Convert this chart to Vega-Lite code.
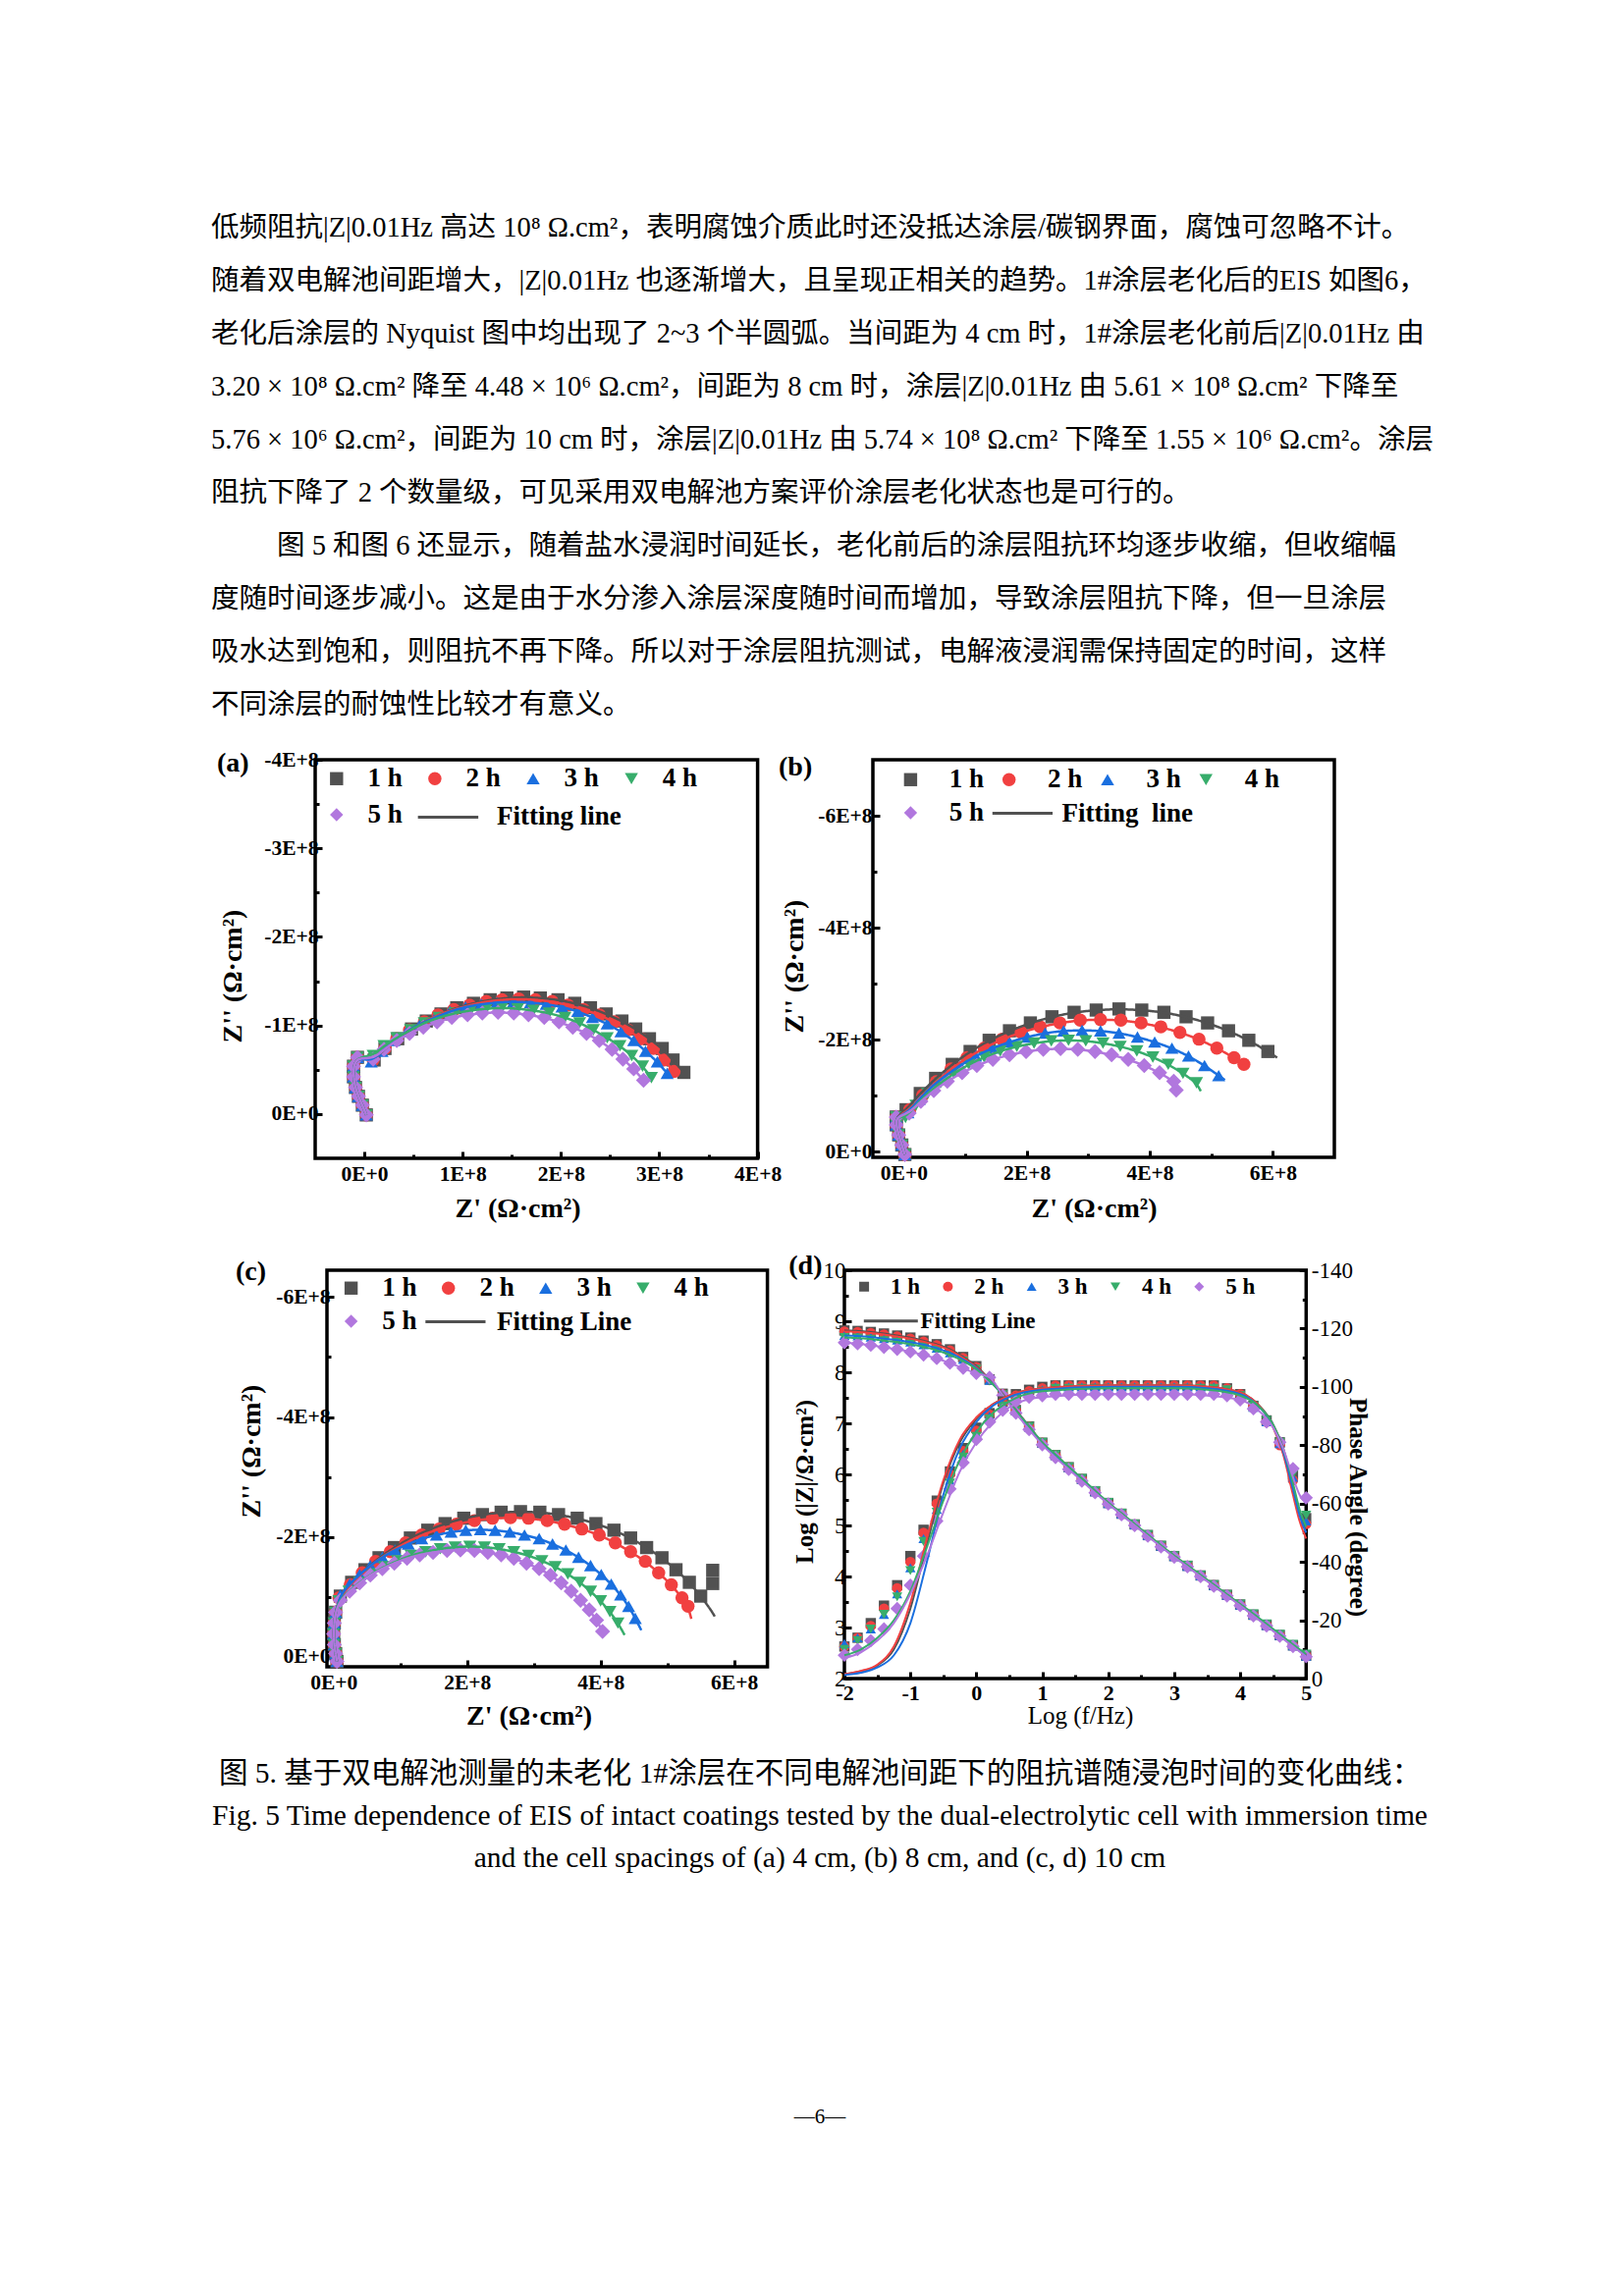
{
"$schema":"https://vega.github.io/schema/vega-lite/v6.json",
"background":"white",
"padding":{"left":215,"top":190,"right":10,"bottom":10},
"autosize":{"type":"pad"},
"config":{
"view":{"stroke":null},
"font":"Liberation Serif",
"axis":{"grid":false,"domain":false,"ticks":true,"tickColor":"black","tickWidth":3,"tickSize":-7,"labelFont":"Liberation Serif","labelFontWeight":"bold","labelFontSize":21.5,"labelColor":"black","labelFlush":false,"labelOverlap":false,"titleFont":"Liberation Serif","titleFontWeight":"bold","titleFontSize":28,"titleColor":"black"},
"legend":{"labelFont":"Liberation Serif","labelFontWeight":"bold","labelColor":"black","labelLimit":400,"symbolStrokeWidth":0,"symbolOpacity":1},
"title":{"font":"Liberation Serif","fontWeight":"bold","fontSize":28,"color":"black","anchor":"start","frame":"group","offset":0,"baseline":"middle","align":"left"}
},
"datasets":{
"tx":[
{"i":0,"x":0,"t":"低频阻抗|Z|0.01Hz 高达 10⁸ Ω.cm²，表明腐蚀介质此时还没抵达涂层/碳钢界面，腐蚀可忽略不计。"},
{"i":1,"x":0,"t":"随着双电解池间距增大，|Z|0.01Hz 也逐渐增大，且呈现正相关的趋势。1#涂层老化后的EIS 如图6，"},
{"i":2,"x":0,"t":"老化后涂层的 Nyquist 图中均出现了 2~3 个半圆弧。当间距为 4 cm 时，1#涂层老化前后|Z|0.01Hz 由"},
{"i":3,"x":0,"t":"3.20 × 10⁸ Ω.cm² 降至 4.48 × 10⁶ Ω.cm²，间距为 8 cm 时，涂层|Z|0.01Hz 由 5.61 × 10⁸ Ω.cm² 下降至"},
{"i":4,"x":0,"t":"5.76 × 10⁶ Ω.cm²，间距为 10 cm 时，涂层|Z|0.01Hz 由 5.74 × 10⁸ Ω.cm² 下降至 1.55 × 10⁶ Ω.cm²。涂层"},
{"i":5,"x":0,"t":"阻抗下降了 2 个数量级，可见采用双电解池方案评价涂层老化状态也是可行的。"},
{"i":6,"x":2.27,"t":"图 5 和图 6 还显示，随着盐水浸润时间延长，老化前后的涂层阻抗环均逐步收缩，但收缩幅"},
{"i":7,"x":0,"t":"度随时间逐步减小。这是由于水分渗入涂层深度随时间而增加，导致涂层阻抗下降，但一旦涂层"},
{"i":8,"x":0,"t":"吸水达到饱和，则阻抗不再下降。所以对于涂层阻抗测试，电解液浸润需保持固定的时间，这样"},
{"i":9,"x":0,"t":"不同涂层的耐蚀性比较才有意义。"}
],
"cap":[
{"i":0,"t":"图 5. 基于双电解池测量的未老化 1#涂层在不同电解池间距下的阻抗谱随浸泡时间的变化曲线："},
{"i":1,"t":"Fig. 5 Time dependence of EIS of intact coatings tested by the dual-electrolytic cell with immersion time"},
{"i":2,"t":"and the cell spacings of (a) 4 cm, (b) 8 cm, and (c, d) 10 cm"},
{"i":8.1,"t":"—6—"}
],
"na":[
{"s":1,"x":0.02,"y":0.01},{"s":1,"x":-0.02,"y":-0.1},{"s":1,"x":-0.06,"y":-0.2},{"s":1,"x":-0.09,"y":-0.3},{"s":1,"x":-0.11,"y":-0.42},{"s":1,"x":-0.11,"y":-0.54},{"s":1,"x":-0.07,"y":-0.64},
{"s":1,"x":0.1,"y":-0.61},{"s":1,"x":0.21,"y":-0.74},{"s":1,"x":0.34,"y":-0.85},{"s":1,"x":0.48,"y":-0.96},{"s":1,"x":0.63,"y":-1.05},{"s":1,"x":0.78,"y":-1.13},{"s":1,"x":0.94,"y":-1.2},{"s":1,"x":1.11,"y":-1.25},{"s":1,"x":1.28,"y":-1.29},{"s":1,"x":1.45,"y":-1.31},{"s":1,"x":1.62,"y":-1.32},{"s":1,"x":1.79,"y":-1.31},{"s":1,"x":1.97,"y":-1.29},{"s":1,"x":2.14,"y":-1.25},{"s":1,"x":2.3,"y":-1.2},{"s":1,"x":2.46,"y":-1.13},{"s":1,"x":2.62,"y":-1.05},{"s":1,"x":2.76,"y":-0.96},{"s":1,"x":2.9,"y":-0.85},{"s":1,"x":3.03,"y":-0.74},{"s":1,"x":3.14,"y":-0.61},{"s":1,"x":3.25,"y":-0.47},
{"s":2,"x":0.02,"y":0.01},{"s":2,"x":-0.02,"y":-0.1},{"s":2,"x":-0.06,"y":-0.2},{"s":2,"x":-0.09,"y":-0.3},{"s":2,"x":-0.11,"y":-0.42},{"s":2,"x":-0.11,"y":-0.54},{"s":2,"x":-0.07,"y":-0.64},
{"s":2,"x":0.09,"y":-0.61},{"s":2,"x":0.21,"y":-0.74},{"s":2,"x":0.33,"y":-0.85},{"s":2,"x":0.46,"y":-0.95},{"s":2,"x":0.61,"y":-1.04},{"s":2,"x":0.75,"y":-1.12},{"s":2,"x":0.91,"y":-1.18},{"s":2,"x":1.07,"y":-1.23},{"s":2,"x":1.24,"y":-1.27},{"s":2,"x":1.4,"y":-1.29},{"s":2,"x":1.57,"y":-1.3},{"s":2,"x":1.74,"y":-1.29},{"s":2,"x":1.91,"y":-1.27},{"s":2,"x":2.07,"y":-1.23},{"s":2,"x":2.23,"y":-1.18},{"s":2,"x":2.39,"y":-1.12},{"s":2,"x":2.54,"y":-1.04},{"s":2,"x":2.68,"y":-0.95},{"s":2,"x":2.81,"y":-0.85},{"s":2,"x":2.94,"y":-0.74},{"s":2,"x":3.05,"y":-0.61},{"s":2,"x":3.15,"y":-0.48},
{"s":3,"x":0.02,"y":0.01},{"s":3,"x":-0.02,"y":-0.1},{"s":3,"x":-0.06,"y":-0.2},{"s":3,"x":-0.09,"y":-0.3},{"s":3,"x":-0.11,"y":-0.42},{"s":3,"x":-0.11,"y":-0.54},{"s":3,"x":-0.07,"y":-0.64},
{"s":3,"x":0.07,"y":-0.59},{"s":3,"x":0.18,"y":-0.71},{"s":3,"x":0.3,"y":-0.83},{"s":3,"x":0.43,"y":-0.93},{"s":3,"x":0.57,"y":-1.02},{"s":3,"x":0.72,"y":-1.09},{"s":3,"x":0.87,"y":-1.16},{"s":3,"x":1.03,"y":-1.21},{"s":3,"x":1.19,"y":-1.24},{"s":3,"x":1.35,"y":-1.26},{"s":3,"x":1.52,"y":-1.27},{"s":3,"x":1.69,"y":-1.26},{"s":3,"x":1.85,"y":-1.24},{"s":3,"x":2.01,"y":-1.21},{"s":3,"x":2.17,"y":-1.16},{"s":3,"x":2.32,"y":-1.09},{"s":3,"x":2.47,"y":-1.02},{"s":3,"x":2.61,"y":-0.93},{"s":3,"x":2.74,"y":-0.83},{"s":3,"x":2.86,"y":-0.71},{"s":3,"x":2.98,"y":-0.59},{"s":3,"x":3.08,"y":-0.46},
{"s":4,"x":0.02,"y":0.01},{"s":4,"x":-0.02,"y":-0.1},{"s":4,"x":-0.06,"y":-0.2},{"s":4,"x":-0.09,"y":-0.3},{"s":4,"x":-0.11,"y":-0.42},{"s":4,"x":-0.11,"y":-0.54},{"s":4,"x":-0.07,"y":-0.64},
{"s":4,"x":0.09,"y":-0.66},{"s":4,"x":0.2,"y":-0.77},{"s":4,"x":0.33,"y":-0.86},{"s":4,"x":0.47,"y":-0.95},{"s":4,"x":0.61,"y":-1.03},{"s":4,"x":0.76,"y":-1.09},{"s":4,"x":0.92,"y":-1.14},{"s":4,"x":1.08,"y":-1.17},{"s":4,"x":1.24,"y":-1.19},{"s":4,"x":1.4,"y":-1.2},{"s":4,"x":1.56,"y":-1.19},{"s":4,"x":1.72,"y":-1.17},{"s":4,"x":1.88,"y":-1.14},{"s":4,"x":2.04,"y":-1.09},{"s":4,"x":2.19,"y":-1.03},{"s":4,"x":2.33,"y":-0.95},{"s":4,"x":2.47,"y":-0.86},{"s":4,"x":2.6,"y":-0.77},{"s":4,"x":2.72,"y":-0.66},{"s":4,"x":2.83,"y":-0.54},{"s":4,"x":2.92,"y":-0.41},
{"s":5,"x":0.02,"y":0.01},{"s":5,"x":-0.02,"y":-0.1},{"s":5,"x":-0.06,"y":-0.2},{"s":5,"x":-0.09,"y":-0.3},{"s":5,"x":-0.11,"y":-0.42},{"s":5,"x":-0.11,"y":-0.54},{"s":5,"x":-0.07,"y":-0.64},
{"s":5,"x":0.09,"y":-0.62},{"s":5,"x":0.2,"y":-0.73},{"s":5,"x":0.33,"y":-0.83},{"s":5,"x":0.46,"y":-0.91},{"s":5,"x":0.6,"y":-0.98},{"s":5,"x":0.74,"y":-1.04},{"s":5,"x":0.89,"y":-1.09},{"s":5,"x":1.05,"y":-1.12},{"s":5,"x":1.2,"y":-1.14},{"s":5,"x":1.36,"y":-1.15},{"s":5,"x":1.52,"y":-1.14},{"s":5,"x":1.67,"y":-1.12},{"s":5,"x":1.83,"y":-1.09},{"s":5,"x":1.98,"y":-1.04},{"s":5,"x":2.12,"y":-0.98},{"s":5,"x":2.26,"y":-0.91},{"s":5,"x":2.39,"y":-0.83},{"s":5,"x":2.52,"y":-0.73},{"s":5,"x":2.63,"y":-0.62},{"s":5,"x":2.74,"y":-0.51},{"s":5,"x":2.84,"y":-0.38}
],
"nb":[
{"s":1,"x":0.02,"y":0.05},{"s":1,"x":-0.03,"y":-0.12},{"s":1,"x":-0.08,"y":-0.3},{"s":1,"x":-0.12,"y":-0.48},{"s":1,"x":-0.12,"y":-0.62},
{"s":1,"x":0.04,"y":-0.75},{"s":1,"x":0.27,"y":-1.04},{"s":1,"x":0.52,"y":-1.31},{"s":1,"x":0.79,"y":-1.56},{"s":1,"x":1.08,"y":-1.79},{"s":1,"x":1.39,"y":-1.99},{"s":1,"x":1.72,"y":-2.16},{"s":1,"x":2.06,"y":-2.3},{"s":1,"x":2.41,"y":-2.41},{"s":1,"x":2.77,"y":-2.49},{"s":1,"x":3.13,"y":-2.53},{"s":1,"x":3.5,"y":-2.55},{"s":1,"x":3.87,"y":-2.53},{"s":1,"x":4.23,"y":-2.49},{"s":1,"x":4.59,"y":-2.41},{"s":1,"x":4.94,"y":-2.3},{"s":1,"x":5.28,"y":-2.16},{"s":1,"x":5.61,"y":-1.99},{"s":1,"x":5.92,"y":-1.79},{"s":1,"x":6.07,"y":-1.68,"k":2},
{"s":2,"x":0.02,"y":0.05},{"s":2,"x":-0.03,"y":-0.12},{"s":2,"x":-0.08,"y":-0.3},{"s":2,"x":-0.12,"y":-0.48},{"s":2,"x":-0.12,"y":-0.62},
{"s":2,"x":0.1,"y":-0.75},{"s":2,"x":0.31,"y":-1.01},{"s":2,"x":0.53,"y":-1.25},{"s":2,"x":0.77,"y":-1.48},{"s":2,"x":1.03,"y":-1.68},{"s":2,"x":1.31,"y":-1.85},{"s":2,"x":1.6,"y":-2.01},{"s":2,"x":1.91,"y":-2.13},{"s":2,"x":2.22,"y":-2.23},{"s":2,"x":2.54,"y":-2.3},{"s":2,"x":2.87,"y":-2.35},{"s":2,"x":3.2,"y":-2.36},{"s":2,"x":3.53,"y":-2.35},{"s":2,"x":3.86,"y":-2.3},{"s":2,"x":4.18,"y":-2.23},{"s":2,"x":4.49,"y":-2.13},{"s":2,"x":4.8,"y":-2.01},{"s":2,"x":5.09,"y":-1.85},{"s":2,"x":5.37,"y":-1.68},{"s":2,"x":5.53,"y":-1.56},
{"s":3,"x":0.02,"y":0.05},{"s":3,"x":-0.03,"y":-0.12},{"s":3,"x":-0.08,"y":-0.3},{"s":3,"x":-0.12,"y":-0.48},{"s":3,"x":-0.12,"y":-0.62},
{"s":3,"x":0.07,"y":-0.7},{"s":3,"x":0.25,"y":-0.93},{"s":3,"x":0.45,"y":-1.16},{"s":3,"x":0.68,"y":-1.36},{"s":3,"x":0.92,"y":-1.54},{"s":3,"x":1.17,"y":-1.71},{"s":3,"x":1.44,"y":-1.85},{"s":3,"x":1.72,"y":-1.96},{"s":3,"x":2.01,"y":-2.05},{"s":3,"x":2.3,"y":-2.12},{"s":3,"x":2.6,"y":-2.16},{"s":3,"x":2.9,"y":-2.17},{"s":3,"x":3.2,"y":-2.16},{"s":3,"x":3.5,"y":-2.12},{"s":3,"x":3.8,"y":-2.05},{"s":3,"x":4.08,"y":-1.96},{"s":3,"x":4.36,"y":-1.85},{"s":3,"x":4.63,"y":-1.71},{"s":3,"x":4.89,"y":-1.54},{"s":3,"x":5.12,"y":-1.36},{"s":3,"x":5.22,"y":-1.28,"k":2},
{"s":4,"x":0.02,"y":0.05},{"s":4,"x":-0.03,"y":-0.12},{"s":4,"x":-0.08,"y":-0.3},{"s":4,"x":-0.12,"y":-0.48},{"s":4,"x":-0.12,"y":-0.62},
{"s":4,"x":0.03,"y":-0.61},{"s":4,"x":0.2,"y":-0.83},{"s":4,"x":0.39,"y":-1.04},{"s":4,"x":0.6,"y":-1.23},{"s":4,"x":0.82,"y":-1.4},{"s":4,"x":1.06,"y":-1.56},{"s":4,"x":1.31,"y":-1.69},{"s":4,"x":1.57,"y":-1.8},{"s":4,"x":1.84,"y":-1.88},{"s":4,"x":2.12,"y":-1.94},{"s":4,"x":2.4,"y":-1.98},{"s":4,"x":2.68,"y":-1.99},{"s":4,"x":2.96,"y":-1.98},{"s":4,"x":3.24,"y":-1.94},{"s":4,"x":3.52,"y":-1.88},{"s":4,"x":3.79,"y":-1.8},{"s":4,"x":4.05,"y":-1.69},{"s":4,"x":4.3,"y":-1.56},{"s":4,"x":4.54,"y":-1.4},{"s":4,"x":4.76,"y":-1.23},{"s":4,"x":4.83,"y":-1.08,"k":2},
{"s":5,"x":0.02,"y":0.05},{"s":5,"x":-0.03,"y":-0.12},{"s":5,"x":-0.08,"y":-0.3},{"s":5,"x":-0.12,"y":-0.48},{"s":5,"x":-0.12,"y":-0.62},
{"s":5,"x":0.09,"y":-0.69},{"s":5,"x":0.28,"y":-0.9},{"s":5,"x":0.49,"y":-1.09},{"s":5,"x":0.71,"y":-1.26},{"s":5,"x":0.95,"y":-1.41},{"s":5,"x":1.19,"y":-1.54},{"s":5,"x":1.45,"y":-1.65},{"s":5,"x":1.72,"y":-1.73},{"s":5,"x":1.99,"y":-1.79},{"s":5,"x":2.27,"y":-1.83},{"s":5,"x":2.55,"y":-1.84},{"s":5,"x":2.83,"y":-1.83},{"s":5,"x":3.11,"y":-1.79},{"s":5,"x":3.38,"y":-1.73},{"s":5,"x":3.65,"y":-1.65},{"s":5,"x":3.91,"y":-1.54},{"s":5,"x":4.16,"y":-1.41},{"s":5,"x":4.39,"y":-1.26},{"s":5,"x":4.43,"y":-1.1}
],
"nc":[
{"s":1,"x":0.05,"y":0.08},{"s":1,"x":0.03,"y":-0.05},{"s":1,"x":0.01,"y":-0.2},{"s":1,"x":0,"y":-0.38},{"s":1,"x":0.01,"y":-0.56},{"s":1,"x":0.03,"y":-0.74},
{"s":1,"x":0.1,"y":-1.01},{"s":1,"x":0.27,"y":-1.24},{"s":1,"x":0.47,"y":-1.45},{"s":1,"x":0.68,"y":-1.65},{"s":1,"x":0.91,"y":-1.82},{"s":1,"x":1.15,"y":-1.98},{"s":1,"x":1.41,"y":-2.11},{"s":1,"x":1.67,"y":-2.22},{"s":1,"x":1.95,"y":-2.31},{"s":1,"x":2.23,"y":-2.37},{"s":1,"x":2.51,"y":-2.41},{"s":1,"x":2.8,"y":-2.42},{"s":1,"x":3.09,"y":-2.41},{"s":1,"x":3.37,"y":-2.37},{"s":1,"x":3.65,"y":-2.31},{"s":1,"x":3.93,"y":-2.22},{"s":1,"x":4.2,"y":-2.11},{"s":1,"x":4.45,"y":-1.98},{"s":1,"x":4.69,"y":-1.82},{"s":1,"x":4.92,"y":-1.65},{"s":1,"x":5.13,"y":-1.45},{"s":1,"x":5.33,"y":-1.24},{"s":1,"x":5.5,"y":-1.01},{"s":1,"x":5.68,"y":-1.44,"k":1},{"s":1,"x":5.68,"y":-1.22,"k":1},{"s":1,"x":5.66,"y":-0.77,"k":2},{"s":1,"x":5.71,"y":-0.67,"k":2},
{"s":2,"x":0.05,"y":0.08},{"s":2,"x":0.03,"y":-0.05},{"s":2,"x":0.01,"y":-0.2},{"s":2,"x":0,"y":-0.38},{"s":2,"x":0.01,"y":-0.56},{"s":2,"x":0.03,"y":-0.74},
{"s":2,"x":0.08,"y":-0.98},{"s":2,"x":0.25,"y":-1.2},{"s":2,"x":0.43,"y":-1.4},{"s":2,"x":0.63,"y":-1.59},{"s":2,"x":0.85,"y":-1.75},{"s":2,"x":1.08,"y":-1.9},{"s":2,"x":1.32,"y":-2.03},{"s":2,"x":1.58,"y":-2.13},{"s":2,"x":1.84,"y":-2.21},{"s":2,"x":2.11,"y":-2.27},{"s":2,"x":2.38,"y":-2.31},{"s":2,"x":2.65,"y":-2.32},{"s":2,"x":2.92,"y":-2.31},{"s":2,"x":3.2,"y":-2.27},{"s":2,"x":3.46,"y":-2.21},{"s":2,"x":3.72,"y":-2.13},{"s":2,"x":3.98,"y":-2.03},{"s":2,"x":4.22,"y":-1.9},{"s":2,"x":4.45,"y":-1.75},{"s":2,"x":4.67,"y":-1.59},{"s":2,"x":4.87,"y":-1.4},{"s":2,"x":5.06,"y":-1.2},{"s":2,"x":5.22,"y":-0.98},{"s":2,"x":5.31,"y":-0.84},{"s":2,"x":5.36,"y":-0.63,"k":2},
{"s":3,"x":0.05,"y":0.08},{"s":3,"x":0.03,"y":-0.05},{"s":3,"x":0.01,"y":-0.2},{"s":3,"x":0,"y":-0.38},{"s":3,"x":0.01,"y":-0.56},{"s":3,"x":0.03,"y":-0.74},
{"s":3,"x":0.1,"y":-1.03},{"s":3,"x":0.24,"y":-1.21},{"s":3,"x":0.39,"y":-1.37},{"s":3,"x":0.55,"y":-1.52},{"s":3,"x":0.73,"y":-1.66},{"s":3,"x":0.92,"y":-1.78},{"s":3,"x":1.12,"y":-1.88},{"s":3,"x":1.32,"y":-1.97},{"s":3,"x":1.54,"y":-2.03},{"s":3,"x":1.76,"y":-2.08},{"s":3,"x":1.98,"y":-2.11},{"s":3,"x":2.2,"y":-2.12},{"s":3,"x":2.42,"y":-2.11},{"s":3,"x":2.64,"y":-2.08},{"s":3,"x":2.86,"y":-2.03},{"s":3,"x":3.08,"y":-1.97},{"s":3,"x":3.28,"y":-1.88},{"s":3,"x":3.48,"y":-1.78},{"s":3,"x":3.67,"y":-1.66},{"s":3,"x":3.85,"y":-1.52},{"s":3,"x":4.01,"y":-1.37},{"s":3,"x":4.16,"y":-1.21},{"s":3,"x":4.3,"y":-1.03},{"s":3,"x":4.42,"y":-0.84},{"s":3,"x":4.52,"y":-0.64},{"s":3,"x":4.61,"y":-0.44,"k":2},
{"s":4,"x":0.05,"y":0.08},{"s":4,"x":0.03,"y":-0.05},{"s":4,"x":0.01,"y":-0.2},{"s":4,"x":0,"y":-0.38},{"s":4,"x":0.01,"y":-0.56},{"s":4,"x":0.03,"y":-0.74},
{"s":4,"x":0.08,"y":-0.93},{"s":4,"x":0.23,"y":-1.09},{"s":4,"x":0.39,"y":-1.24},{"s":4,"x":0.57,"y":-1.38},{"s":4,"x":0.76,"y":-1.5},{"s":4,"x":0.96,"y":-1.6},{"s":4,"x":1.16,"y":-1.69},{"s":4,"x":1.38,"y":-1.75},{"s":4,"x":1.6,"y":-1.8},{"s":4,"x":1.82,"y":-1.83},{"s":4,"x":2.04,"y":-1.84},{"s":4,"x":2.26,"y":-1.83},{"s":4,"x":2.48,"y":-1.8},{"s":4,"x":2.7,"y":-1.75},{"s":4,"x":2.92,"y":-1.69},{"s":4,"x":3.12,"y":-1.6},{"s":4,"x":3.32,"y":-1.5},{"s":4,"x":3.51,"y":-1.38},{"s":4,"x":3.69,"y":-1.24},{"s":4,"x":3.85,"y":-1.09},{"s":4,"x":4,"y":-0.93},{"s":4,"x":4.14,"y":-0.75},{"s":4,"x":4.26,"y":-0.56},{"s":4,"x":4.36,"y":-0.36,"k":2},
{"s":5,"x":0.05,"y":0.08},{"s":5,"x":0.03,"y":-0.05},{"s":5,"x":0.01,"y":-0.2},{"s":5,"x":0,"y":-0.38},{"s":5,"x":0.01,"y":-0.56},{"s":5,"x":0.03,"y":-0.74},
{"s":5,"x":0.1,"y":-0.94},{"s":5,"x":0.24,"y":-1.09},{"s":5,"x":0.39,"y":-1.23},{"s":5,"x":0.55,"y":-1.36},{"s":5,"x":0.73,"y":-1.47},{"s":5,"x":0.91,"y":-1.56},{"s":5,"x":1.1,"y":-1.64},{"s":5,"x":1.29,"y":-1.7},{"s":5,"x":1.49,"y":-1.74},{"s":5,"x":1.7,"y":-1.77},{"s":5,"x":1.9,"y":-1.78},{"s":5,"x":2.11,"y":-1.77},{"s":5,"x":2.31,"y":-1.74},{"s":5,"x":2.51,"y":-1.7},{"s":5,"x":2.7,"y":-1.64},{"s":5,"x":2.89,"y":-1.56},{"s":5,"x":3.08,"y":-1.47},{"s":5,"x":3.25,"y":-1.36},{"s":5,"x":3.41,"y":-1.23},{"s":5,"x":3.56,"y":-1.09},{"s":5,"x":3.7,"y":-0.94},{"s":5,"x":3.83,"y":-0.78},{"s":5,"x":3.94,"y":-0.61},{"s":5,"x":4.03,"y":-0.42}
],
"dd":[
{"s":1,"f":-2,"z":8.82,"p":-11},{"s":1,"f":-1.8,"z":8.81,"p":-14},{"s":1,"f":-1.6,"z":8.79,"p":-19},{"s":1,"f":-1.4,"z":8.76,"p":-25},{"s":1,"f":-1.2,"z":8.72,"p":-32},{"s":1,"f":-1,"z":8.68,"p":-42},{"s":1,"f":-0.8,"z":8.62,"p":-51},{"s":1,"f":-0.6,"z":8.55,"p":-61},{"s":1,"f":-0.4,"z":8.45,"p":-71},{"s":1,"f":-0.2,"z":8.3,"p":-79},{"s":1,"f":0,"z":8.12,"p":-86},{"s":1,"f":0.2,"z":7.86,"p":-91},{"s":1,"f":0.4,"z":7.58,"p":-95},{"s":1,"f":0.6,"z":7.26,"p":-97.5},{"s":1,"f":0.8,"z":6.94,"p":-99},{"s":1,"f":1,"z":6.62,"p":-100},{"s":1,"f":1.2,"z":6.38,"p":-100.5},{"s":1,"f":1.4,"z":6.14,"p":-100.5},{"s":1,"f":1.6,"z":5.91,"p":-100.5},{"s":1,"f":1.8,"z":5.67,"p":-100.5},{"s":1,"f":2,"z":5.44,"p":-100.5},{"s":1,"f":2.2,"z":5.23,"p":-100.5},{"s":1,"f":2.4,"z":5.02,"p":-100.5},{"s":1,"f":2.6,"z":4.81,"p":-100.5},{"s":1,"f":2.8,"z":4.6,"p":-100.5},{"s":1,"f":3,"z":4.4,"p":-100.5},{"s":1,"f":3.2,"z":4.21,"p":-100.5},{"s":1,"f":3.4,"z":4.02,"p":-100.5},{"s":1,"f":3.6,"z":3.83,"p":-100.5},{"s":1,"f":3.8,"z":3.64,"p":-99.5},{"s":1,"f":4,"z":3.45,"p":-97.5},{"s":1,"f":4.2,"z":3.25,"p":-93.5},{"s":1,"f":4.4,"z":3.05,"p":-88.5},{"s":1,"f":4.6,"z":2.85,"p":-81},{"s":1,"f":4.8,"z":2.65,"p":-70},{"s":1,"f":5,"z":2.45,"p":-55},
{"s":2,"f":-2,"z":8.8,"p":-11},{"s":2,"f":-1.8,"z":8.79,"p":-14},{"s":2,"f":-1.6,"z":8.77,"p":-18},{"s":2,"f":-1.4,"z":8.74,"p":-24},{"s":2,"f":-1.2,"z":8.7,"p":-31},{"s":2,"f":-1,"z":8.66,"p":-40},{"s":2,"f":-0.8,"z":8.6,"p":-50},{"s":2,"f":-0.6,"z":8.53,"p":-60},{"s":2,"f":-0.4,"z":8.43,"p":-70},{"s":2,"f":-0.2,"z":8.28,"p":-78},{"s":2,"f":0,"z":8.1,"p":-85},{"s":2,"f":0.2,"z":7.85,"p":-90.5},{"s":2,"f":0.4,"z":7.57,"p":-94.5},{"s":2,"f":0.6,"z":7.26,"p":-97},{"s":2,"f":0.8,"z":6.94,"p":-98.5},{"s":2,"f":1,"z":6.62,"p":-99.5},{"s":2,"f":1.2,"z":6.38,"p":-100.5},{"s":2,"f":1.4,"z":6.14,"p":-100.5},{"s":2,"f":1.6,"z":5.91,"p":-100.5},{"s":2,"f":1.8,"z":5.67,"p":-100.5},{"s":2,"f":2,"z":5.44,"p":-100.5},{"s":2,"f":2.2,"z":5.23,"p":-100.5},{"s":2,"f":2.4,"z":5.02,"p":-100.5},{"s":2,"f":2.6,"z":4.81,"p":-100.5},{"s":2,"f":2.8,"z":4.6,"p":-100.5},{"s":2,"f":3,"z":4.4,"p":-100.5},{"s":2,"f":3.2,"z":4.21,"p":-100.5},{"s":2,"f":3.4,"z":4.02,"p":-100.5},{"s":2,"f":3.6,"z":3.83,"p":-100.5},{"s":2,"f":3.8,"z":3.64,"p":-99.5},{"s":2,"f":4,"z":3.45,"p":-97.5},{"s":2,"f":4.2,"z":3.25,"p":-93.5},{"s":2,"f":4.4,"z":3.05,"p":-88},{"s":2,"f":4.6,"z":2.85,"p":-80},{"s":2,"f":4.8,"z":2.65,"p":-68},{"s":2,"f":5,"z":2.45,"p":-53},
{"s":3,"f":-2,"z":8.72,"p":-12},{"s":3,"f":-1.8,"z":8.71,"p":-14},{"s":3,"f":-1.6,"z":8.69,"p":-17},{"s":3,"f":-1.4,"z":8.66,"p":-22},{"s":3,"f":-1.2,"z":8.63,"p":-29},{"s":3,"f":-1,"z":8.59,"p":-38},{"s":3,"f":-0.8,"z":8.54,"p":-48},{"s":3,"f":-0.6,"z":8.47,"p":-58},{"s":3,"f":-0.4,"z":8.38,"p":-68},{"s":3,"f":-0.2,"z":8.25,"p":-77},{"s":3,"f":0,"z":8.08,"p":-84},{"s":3,"f":0.2,"z":7.84,"p":-90},{"s":3,"f":0.4,"z":7.56,"p":-94},{"s":3,"f":0.6,"z":7.25,"p":-96.5},{"s":3,"f":0.8,"z":6.93,"p":-98},{"s":3,"f":1,"z":6.61,"p":-99},{"s":3,"f":1.2,"z":6.37,"p":-100},{"s":3,"f":1.4,"z":6.13,"p":-100},{"s":3,"f":1.6,"z":5.9,"p":-100},{"s":3,"f":1.8,"z":5.66,"p":-100},{"s":3,"f":2,"z":5.43,"p":-100},{"s":3,"f":2.2,"z":5.22,"p":-100},{"s":3,"f":2.4,"z":5.01,"p":-100},{"s":3,"f":2.6,"z":4.8,"p":-100},{"s":3,"f":2.8,"z":4.59,"p":-100},{"s":3,"f":3,"z":4.39,"p":-100},{"s":3,"f":3.2,"z":4.2,"p":-100},{"s":3,"f":3.4,"z":4.01,"p":-100},{"s":3,"f":3.6,"z":3.82,"p":-100},{"s":3,"f":3.8,"z":3.63,"p":-99},{"s":3,"f":4,"z":3.44,"p":-97},{"s":3,"f":4.2,"z":3.24,"p":-93},{"s":3,"f":4.4,"z":3.04,"p":-88},{"s":3,"f":4.6,"z":2.84,"p":-80.5},{"s":3,"f":4.8,"z":2.64,"p":-69},{"s":3,"f":5,"z":2.44,"p":-54},
{"s":4,"f":-2,"z":8.68,"p":-10},{"s":4,"f":-1.8,"z":8.67,"p":-13},{"s":4,"f":-1.6,"z":8.65,"p":-17},{"s":4,"f":-1.4,"z":8.62,"p":-22},{"s":4,"f":-1.2,"z":8.59,"p":-28},{"s":4,"f":-1,"z":8.55,"p":-37},{"s":4,"f":-0.8,"z":8.5,"p":-47},{"s":4,"f":-0.6,"z":8.43,"p":-57},{"s":4,"f":-0.4,"z":8.34,"p":-67},{"s":4,"f":-0.2,"z":8.22,"p":-76},{"s":4,"f":0,"z":8.06,"p":-83},{"s":4,"f":0.2,"z":7.83,"p":-89},{"s":4,"f":0.4,"z":7.56,"p":-93.5},{"s":4,"f":0.6,"z":7.25,"p":-96},{"s":4,"f":0.8,"z":6.94,"p":-97.5},{"s":4,"f":1,"z":6.63,"p":-98.5},{"s":4,"f":1.2,"z":6.39,"p":-99.5},{"s":4,"f":1.4,"z":6.15,"p":-99.5},{"s":4,"f":1.6,"z":5.92,"p":-99.5},{"s":4,"f":1.8,"z":5.68,"p":-99.5},{"s":4,"f":2,"z":5.45,"p":-99.5},{"s":4,"f":2.2,"z":5.24,"p":-99.5},{"s":4,"f":2.4,"z":5.03,"p":-99.5},{"s":4,"f":2.6,"z":4.82,"p":-99.5},{"s":4,"f":2.8,"z":4.61,"p":-99.5},{"s":4,"f":3,"z":4.41,"p":-99.5},{"s":4,"f":3.2,"z":4.22,"p":-99.5},{"s":4,"f":3.4,"z":4.03,"p":-99.5},{"s":4,"f":3.6,"z":3.84,"p":-99.5},{"s":4,"f":3.8,"z":3.65,"p":-99},{"s":4,"f":4,"z":3.46,"p":-97},{"s":4,"f":4.2,"z":3.27,"p":-93.5},{"s":4,"f":4.4,"z":3.07,"p":-88.5},{"s":4,"f":4.6,"z":2.87,"p":-81},{"s":4,"f":4.8,"z":2.67,"p":-70},{"s":4,"f":5,"z":2.48,"p":-56},
{"s":5,"f":-2,"z":8.58,"p":-8},{"s":5,"f":-1.8,"z":8.56,"p":-10},{"s":5,"f":-1.6,"z":8.53,"p":-13},{"s":5,"f":-1.4,"z":8.49,"p":-17},{"s":5,"f":-1.2,"z":8.45,"p":-24},{"s":5,"f":-1,"z":8.4,"p":-32},{"s":5,"f":-0.8,"z":8.34,"p":-42},{"s":5,"f":-0.6,"z":8.27,"p":-54},{"s":5,"f":-0.4,"z":8.18,"p":-65},{"s":5,"f":-0.2,"z":8.08,"p":-74},{"s":5,"f":0,"z":7.98,"p":-82},{"s":5,"f":0.2,"z":7.9,"p":-88},{"s":5,"f":0.4,"z":7.55,"p":-92},{"s":5,"f":0.6,"z":7.2,"p":-95},{"s":5,"f":0.8,"z":6.88,"p":-96.5},{"s":5,"f":1,"z":6.58,"p":-97},{"s":5,"f":1.2,"z":6.33,"p":-97.5},{"s":5,"f":1.4,"z":6.1,"p":-97.5},{"s":5,"f":1.6,"z":5.87,"p":-97.5},{"s":5,"f":1.8,"z":5.64,"p":-97.5},{"s":5,"f":2,"z":5.42,"p":-97.5},{"s":5,"f":2.2,"z":5.21,"p":-97.5},{"s":5,"f":2.4,"z":5,"p":-97.5},{"s":5,"f":2.6,"z":4.79,"p":-97.5},{"s":5,"f":2.8,"z":4.58,"p":-97.5},{"s":5,"f":3,"z":4.38,"p":-97.5},{"s":5,"f":3.2,"z":4.19,"p":-97.5},{"s":5,"f":3.4,"z":4,"p":-97.5},{"s":5,"f":3.6,"z":3.81,"p":-97.5},{"s":5,"f":3.8,"z":3.62,"p":-97},{"s":5,"f":4,"z":3.43,"p":-95.5},{"s":5,"f":4.2,"z":3.23,"p":-92.5},{"s":5,"f":4.4,"z":3.03,"p":-88},{"s":5,"f":4.6,"z":2.83,"p":-81},{"s":5,"f":4.8,"z":2.63,"p":-72},{"s":5,"f":5,"z":2.43,"p":-62}
],
"df":[
{"s":1,"f":-2,"p":-1.5},{"s":1,"f":-1.75,"p":-2.5},{"s":1,"f":-1.5,"p":-4.5},{"s":1,"f":-1.25,"p":-10},{"s":1,"f":-1,"p":-24},{"s":1,"f":-0.75,"p":-46},{"s":1,"f":-0.5,"p":-67},{"s":1,"f":-0.25,"p":-81},{"s":1,"f":0,"p":-89},{"s":1,"f":0.25,"p":-94},{"s":1,"f":0.5,"p":-97},{"s":1,"f":1,"p":-99.5},{"s":1,"f":2,"p":-100.5},{"s":1,"f":3,"p":-100.5},{"s":1,"f":3.5,"p":-100},{"s":1,"f":4,"p":-98},{"s":1,"f":4.25,"p":-94.5},{"s":1,"f":4.5,"p":-87},{"s":1,"f":4.65,"p":-79},{"s":1,"f":4.8,"p":-66},{"s":1,"f":4.9,"p":-57},{"s":1,"f":5,"p":-50},
{"s":2,"f":-2,"p":-1.5},{"s":2,"f":-1.75,"p":-2.6},{"s":2,"f":-1.5,"p":-4.8},{"s":2,"f":-1.25,"p":-11},{"s":2,"f":-1,"p":-26},{"s":2,"f":-0.75,"p":-48},{"s":2,"f":-0.5,"p":-68},{"s":2,"f":-0.25,"p":-82},{"s":2,"f":0,"p":-89.5},{"s":2,"f":0.25,"p":-94},{"s":2,"f":0.5,"p":-97},{"s":2,"f":1,"p":-99.5},{"s":2,"f":2,"p":-100.5},{"s":2,"f":3,"p":-100.5},{"s":2,"f":3.5,"p":-100},{"s":2,"f":4,"p":-98},{"s":2,"f":4.25,"p":-94.5},{"s":2,"f":4.5,"p":-86},{"s":2,"f":4.65,"p":-77},{"s":2,"f":4.8,"p":-63},{"s":2,"f":4.9,"p":-54},{"s":2,"f":5,"p":-48},
{"s":3,"f":-2,"p":-1.2},{"s":3,"f":-1.75,"p":-2},{"s":3,"f":-1.5,"p":-3.8},{"s":3,"f":-1.25,"p":-8},{"s":3,"f":-1,"p":-19},{"s":3,"f":-0.75,"p":-40},{"s":3,"f":-0.5,"p":-63},{"s":3,"f":-0.25,"p":-79},{"s":3,"f":0,"p":-88},{"s":3,"f":0.25,"p":-93.5},{"s":3,"f":0.5,"p":-96.5},{"s":3,"f":1,"p":-99},{"s":3,"f":2,"p":-100},{"s":3,"f":3,"p":-100},{"s":3,"f":3.5,"p":-99.5},{"s":3,"f":4,"p":-97.5},{"s":3,"f":4.25,"p":-94},{"s":3,"f":4.5,"p":-86.5},{"s":3,"f":4.65,"p":-78},{"s":3,"f":4.8,"p":-65},{"s":3,"f":4.9,"p":-56},{"s":3,"f":5,"p":-50},
{"s":4,"f":-2,"p":-8},{"s":4,"f":-1.75,"p":-10},{"s":4,"f":-1.5,"p":-14},{"s":4,"f":-1.25,"p":-20},{"s":4,"f":-1,"p":-30},{"s":4,"f":-0.75,"p":-45},{"s":4,"f":-0.5,"p":-61},{"s":4,"f":-0.25,"p":-75},{"s":4,"f":0,"p":-84.5},{"s":4,"f":0.25,"p":-91},{"s":4,"f":0.5,"p":-95},{"s":4,"f":1,"p":-98.5},{"s":4,"f":2,"p":-99.5},{"s":4,"f":3,"p":-99.5},{"s":4,"f":3.5,"p":-99},{"s":4,"f":4,"p":-97},{"s":4,"f":4.25,"p":-94},{"s":4,"f":4.5,"p":-87},{"s":4,"f":4.65,"p":-79},{"s":4,"f":4.8,"p":-67},{"s":4,"f":4.9,"p":-58},{"s":4,"f":5,"p":-52},
{"s":5,"f":-2,"p":-7},{"s":5,"f":-1.75,"p":-9},{"s":5,"f":-1.5,"p":-13},{"s":5,"f":-1.25,"p":-19},{"s":5,"f":-1,"p":-29},{"s":5,"f":-0.75,"p":-42},{"s":5,"f":-0.5,"p":-57},{"s":5,"f":-0.25,"p":-71},{"s":5,"f":0,"p":-81},{"s":5,"f":0.25,"p":-88},{"s":5,"f":0.5,"p":-93},{"s":5,"f":1,"p":-96.5},{"s":5,"f":2,"p":-97.5},{"s":5,"f":3,"p":-97.5},{"s":5,"f":3.5,"p":-97},{"s":5,"f":4,"p":-95.5},{"s":5,"f":4.25,"p":-92.5},{"s":5,"f":4.5,"p":-86},{"s":5,"f":4.65,"p":-79},{"s":5,"f":4.8,"p":-69},{"s":5,"f":4.9,"p":-63},{"s":5,"f":5,"p":-60}
]
},
"spacing":0,
"bounds":"full",
"vconcat":[
{
"width":1240,"height":570.4,
"view":{"stroke":null,"fill":"white"},
"data":{"name":"tx"},
"mark":{"type":"text","align":"left","baseline":"middle","font":"Liberation Serif, Noto Sans CJK SC","fontSize":28.5,"color":"black"},
"encoding":{
"x":{"field":"x","type":"quantitative","scale":{"domain":[0,42],"nice":false,"zero":false},"axis":null},
"y":{"field":"i","type":"quantitative","scale":{"domain":[-0.772,9.791],"reverse":true,"nice":false,"zero":false},"axis":null},
"text":{"field":"t"}
}
},
{
"hconcat":[
{"width":105.6,"height":10,"data":{"values":[{}]},"mark":{"type":"point","opacity":0}},
{
"width":450.6,"height":406,
"view":{"stroke":"black","strokeWidth":3.5},
"title":{"text":"(a)","dx":-100,"dy":32.5},
"data":{"name":"na"},
"layer":[
{"mark":{"type":"point","filled":true,"opacity":1,"strokeWidth":0},
"transform":[{"filter":"datum.k != 2"}],
"encoding":{
"x":{"field":"x","type":"quantitative","scale":{"domain":[-0.5,4],"nice":false,"zero":false},"axis":{"orient":"bottom","values":[0,1,2,3,4],"labelExpr":"datum.value == 0 ? '0E+0' : (datum.value < 0 ? '-' : '') + abs(datum.value) + 'E+8'","title":"Z' (Ω·cm²)","labelPadding":12,"titlePadding":10.5,"titleX":206}},
"y":{"field":"y","type":"quantitative","scale":{"domain":[-4,0.5],"reverse":true,"nice":false,"zero":false},"axis":{"orient":"left","values":[-4,-3,-2,-1,0],"labelExpr":"datum.value == 0 ? '0E+0' : (datum.value < 0 ? '-' : '') + abs(datum.value) + 'E+8'","title":"Z'' (Ω·cm²)","labelPadding":4,"titlePadding":17,"titleY":220}},
"color":{"field":"s","type":"nominal","scale":{"domain":[1,2,3,4,5],"range":["#515151","#F14040","#1A6FDF","#37AD6B","#B177DE"]},
"legend":{"title":null,"orient":"none","legendX":8.3,"legendY":5.5,"direction":"horizontal","columns":4,"symbolSize":180,"labelOffset":18.1,"columnPadding":19.1,"rowPadding":9,"padding":0,"labelFontSize":27,"labelExpr":"datum.value + ' h'"}},
"shape":{"field":"s","type":"nominal","scale":{"domain":[1,2,3,4,5],"range":["square","circle","triangle-up","triangle-down","diamond"]}},
"size":{"condition":{"test":"datum.s == 5","value":240},"value":180}
}},
{"mark":{"type":"line","interpolate":"basis","strokeWidth":2.5},
"transform":[{"filter":"datum.k != 1"}],
"encoding":{
"x":{"field":"x","type":"quantitative","axis":{"orient":"bottom","values":[0.5,1.5,2.5,3.5],"labels":false,"title":null,"tickSize":-4}},
"y":{"field":"y","type":"quantitative","axis":{"orient":"left","values":[-3.5,-2.5,-1.5,-0.5],"labels":false,"title":null,"tickSize":-4}},
"color":{"field":"s","type":"nominal","scale":{"domain":[1,2,3,4,5],"range":["#515151","#F14040","#1A6FDF","#37AD6B","#B177DE"]},"legend":null},
"strokeDash":{"datum":"Fitting line","type":"nominal","scale":{"range":[[1,0]]},"legend":{"title":null,"orient":"none","legendX":102.9,"legendY":25.9,"symbolType":"stroke","symbolSize":3782,"symbolStrokeColor":"#515151","symbolStrokeWidth":3,"labelOffset":17,"padding":0,"labelFontSize":27,"labelExpr":"'Fitting line'"}},
"order":{"value":null}
}}
],
"resolve":{"axis":{"x":"independent","y":"independent"}}
},
{"width":116.6,"height":10,"data":{"values":[{}]},"mark":{"type":"point","opacity":0}},
{
"width":470,"height":405,
"view":{"stroke":"black","strokeWidth":3.5},
"title":{"text":"(b)","dx":-96,"dy":26.2},
"data":{"name":"nb"},
"layer":[
{"mark":{"type":"point","filled":true,"opacity":1,"strokeWidth":0},
"transform":[{"filter":"datum.k != 2"}],
"encoding":{
"x":{"field":"x","type":"quantitative","scale":{"domain":[-0.5,7],"nice":false,"zero":false},"axis":{"orient":"bottom","values":[0,2,4,6],"labelExpr":"datum.value == 0 ? '0E+0' : (datum.value < 0 ? '-' : '') + abs(datum.value) + 'E+8'","title":"Z' (Ω·cm²)","labelPadding":12,"titlePadding":11.5,"titleX":225}},
"y":{"field":"y","type":"quantitative","scale":{"domain":[-7,0.1],"reverse":true,"nice":false,"zero":false},"axis":{"orient":"left","values":[-6,-4,-2,0],"labelExpr":"datum.value == 0 ? '0E+0' : (datum.value < 0 ? '-' : '') + abs(datum.value) + 'E+8'","title":"Z'' (Ω·cm²)","labelPadding":8,"titlePadding":9.4,"titleY":210}},
"color":{"field":"s","type":"nominal","scale":{"domain":[1,2,3,4,5],"range":["#515151","#F14040","#1A6FDF","#37AD6B","#B177DE"]},
"legend":{"title":null,"orient":"none","legendX":24.9,"legendY":6.5,"direction":"horizontal","columns":4,"symbolSize":180,"labelOffset":25.9,"columnPadding":11.3,"rowPadding":6,"padding":0,"labelFontSize":27,"labelExpr":"datum.value + ' h'"}},
"shape":{"field":"s","type":"nominal","scale":{"domain":[1,2,3,4,5],"range":["square","circle","triangle-up","triangle-down","diamond"]}},
"size":{"condition":{"test":"datum.s == 5","value":240},"value":180}
}},
{"mark":{"type":"line","interpolate":"basis","strokeWidth":2.5},
"transform":[{"filter":"datum.k != 1"}],
"encoding":{
"x":{"field":"x","type":"quantitative","axis":{"orient":"bottom","values":[1,3,5],"labels":false,"title":null,"tickSize":-4}},
"y":{"field":"y","type":"quantitative","axis":{"orient":"left","values":[-5,-3,-1],"labels":false,"title":null,"tickSize":-4}},
"color":{"field":"s","type":"nominal","scale":{"domain":[1,2,3,4,5],"range":["#515151","#F14040","#1A6FDF","#37AD6B","#B177DE"]},"legend":null},
"strokeDash":{"datum":"Fitting line","type":"nominal","scale":{"range":[[1,0]]},"legend":{"title":null,"orient":"none","legendX":119.9,"legendY":22,"symbolType":"stroke","symbolSize":3758,"symbolStrokeColor":"#515151","symbolStrokeWidth":3,"labelOffset":7.6,"padding":0,"labelFontSize":27,"labelExpr":"'Fitting\u00a0\u00a0line'"}},
"order":{"value":null}
}}
],
"resolve":{"axis":{"x":"independent","y":"independent"}}
}
],
"spacing":0,
"bounds":"flush",
"resolve":{"scale":{"color":"independent","shape":"independent","strokeDash":"independent"}}
},
{"width":10,"height":26.8,"data":{"values":[{}]},"mark":{"type":"point","opacity":0}},
{
"hconcat":[
{"width":117.1,"height":10,"data":{"values":[{}]},"mark":{"type":"point","opacity":0}},
{
"width":448.6,"height":404,
"view":{"stroke":"black","strokeWidth":3.5},
"title":{"text":"(c)","dx":-93,"dy":20.25},
"data":{"name":"nc"},
"layer":[
{"mark":{"type":"point","filled":true,"opacity":1,"strokeWidth":0},
"transform":[{"filter":"datum.k != 2"}],
"encoding":{
"x":{"field":"x","type":"quantitative","scale":{"domain":[-0.1,6.5],"nice":false,"zero":false},"axis":{"orient":"bottom","values":[0,2,4,6],"labelExpr":"datum.value == 0 ? '0E+0' : (datum.value < 0 ? '-' : '') + abs(datum.value) + 'E+8'","title":"Z' (Ω·cm²)","labelPadding":12,"titlePadding":10,"titleX":205.5}},
"y":{"field":"y","type":"quantitative","scale":{"domain":[-6.45,0.17],"reverse":true,"nice":false,"zero":false},"axis":{"orient":"left","values":[-6,-4,-2,0],"labelExpr":"datum.value == 0 ? '0E+0' : (datum.value < 0 ? '-' : '') + abs(datum.value) + 'E+8'","title":"Z'' (Ω·cm²)","labelPadding":4,"titlePadding":10,"titleY":184}},
"color":{"field":"s","type":"nominal","scale":{"domain":[1,2,3,4,5],"range":["#515151","#F14040","#1A6FDF","#37AD6B","#B177DE"]},
"legend":{"title":null,"orient":"none","legendX":11.1,"legendY":4.5,"direction":"horizontal","columns":4,"symbolSize":180,"labelOffset":18.2,"columnPadding":18.1,"rowPadding":6,"padding":0,"labelFontSize":27,"labelExpr":"datum.value + ' h'"}},
"shape":{"field":"s","type":"nominal","scale":{"domain":[1,2,3,4,5],"range":["square","circle","triangle-up","triangle-down","diamond"]}},
"size":{"condition":{"test":"datum.s == 5","value":240},"value":180}
}},
{"mark":{"type":"line","interpolate":"basis","strokeWidth":2.5},
"transform":[{"filter":"datum.k != 1"}],
"encoding":{
"x":{"field":"x","type":"quantitative","axis":{"orient":"bottom","values":[1,3,5],"labels":false,"title":null,"tickSize":-4}},
"y":{"field":"y","type":"quantitative","axis":{"orient":"left","values":[-5,-3,-1],"labels":false,"title":null,"tickSize":-4}},
"color":{"field":"s","type":"nominal","scale":{"domain":[1,2,3,4,5],"range":["#515151","#F14040","#1A6FDF","#37AD6B","#B177DE"]},"legend":null},
"strokeDash":{"datum":"Fitting Line","type":"nominal","scale":{"range":[[1,0]]},"legend":{"title":null,"orient":"none","legendX":98.4,"legendY":20,"symbolType":"stroke","symbolSize":3745,"symbolStrokeColor":"#515151","symbolStrokeWidth":3,"labelOffset":9.6,"padding":0,"labelFontSize":27,"labelExpr":"'Fitting Line'"}},
"order":{"value":null}
}}
],
"resolve":{"axis":{"x":"independent","y":"independent"}}
},
{"width":77.7,"height":10,"data":{"values":[{}]},"mark":{"type":"point","opacity":0}},
{
"width":470.3,"height":416,
"view":{"stroke":"black","strokeWidth":3.5},
"title":{"text":"(d)","dx":-56.7,"dy":25},
"layer":[
{
"data":{"name":"dd"},
"layer":[
{"mark":{"type":"point","filled":true,"opacity":1,"strokeWidth":0},
"encoding":{
"x":{"field":"f","type":"quantitative","scale":{"domain":[-2,5],"nice":false,"zero":false},"axis":{"orient":"bottom","values":[-2,-1,0,1,2,3,4,5],"labelExpr":"datum.value < 0 ? '-' + abs(datum.value) : '' + datum.value","title":"Log (f/Hz)","titleFontWeight":"normal","titleFontSize":25,"labelFontSize":22,"labelPadding":11.5,"titlePadding":0,"titleX":240}},
"y":{"field":"z","type":"quantitative","scale":{"domain":[2,10],"nice":false,"zero":false},"axis":{"orient":"left","values":[2,3,4,5,6,7,8,9,10],"labelFontWeight":"normal","labelFontSize":23,"labelPadding":6,"title":"Log (|Z|/Ω·cm²)","titleFontSize":25,"titlePadding":6,"titleY":215}},
"color":{"field":"s","type":"nominal","scale":{"domain":[1,2,3,4,5],"range":["#515151","#F14040","#1A6FDF","#37AD6B","#B177DE"]},
"legend":{"title":null,"orient":"none","legendX":8.6,"legendY":5,"direction":"horizontal","columns":5,"symbolSize":100,"labelOffset":15.4,"columnPadding":16.3,"padding":0,"labelFontSize":23,"labelExpr":"datum.value + ' h'"}},
"shape":{"field":"s","type":"nominal","scale":{"domain":[1,2,3,4,5],"range":["square","circle","triangle-up","triangle-down","diamond"]}},
"size":{"condition":{"test":"datum.s == 5","value":190},"value":110}
}},
{"mark":{"type":"line","interpolate":"monotone","strokeWidth":2},
"encoding":{
"x":{"field":"f","type":"quantitative","axis":{"orient":"bottom","values":[-1.5,-0.5,0.5,1.5,2.5,3.5,4.5],"labels":false,"title":null,"tickSize":-4}},
"y":{"field":"z","type":"quantitative","axis":{"orient":"left","values":[2.5,3.5,4.5,5.5,6.5,7.5,8.5,9.5],"labels":false,"title":null,"tickSize":-4}},
"color":{"field":"s","type":"nominal","scale":{"domain":[1,2,3,4,5],"range":["#515151","#F14040","#1A6FDF","#37AD6B","#B177DE"]},"legend":null},
"strokeDash":{"datum":"Fitting Line","type":"nominal","scale":{"range":[[1,0]]},"legend":{"title":null,"orient":"none","legendX":18.3,"legendY":22.7,"symbolType":"stroke","symbolSize":3025,"symbolStrokeColor":"#515151","symbolStrokeWidth":3,"labelOffset":1.3,"padding":0,"labelFontSize":23,"labelExpr":"'Fitting Line'"}},
"order":{"value":null}
}}
],
"resolve":{"axis":{"x":"independent","y":"independent"}}
},
{
"layer":[
{"data":{"name":"dd"},
"mark":{"type":"point","filled":true,"opacity":1,"strokeWidth":0},
"encoding":{
"x":{"field":"f","type":"quantitative","axis":null},
"y":{"field":"p","type":"quantitative","scale":{"domain":[-140,0],"reverse":true,"nice":false,"zero":false},"axis":{"orient":"right","values":[-140,-120,-100,-80,-60,-40,-20,0],"labelExpr":"datum.value == 0 ? '0' : '-' + abs(datum.value)","labelFontWeight":"normal","labelFontSize":23,"labelPadding":12,"title":"Phase Angle (degree)","titleFontSize":25,"titlePadding":-8,"titleY":241}},
"color":{"field":"s","type":"nominal","scale":{"domain":[1,2,3,4,5],"range":["#515151","#F14040","#1A6FDF","#37AD6B","#B177DE"]},"legend":null},
"shape":{"field":"s","type":"nominal","scale":{"domain":[1,2,3,4,5],"range":["square","circle","triangle-up","triangle-down","diamond"]},"legend":null},
"size":{"condition":{"test":"datum.s == 5","value":190},"value":110}
}},
{"data":{"name":"df"},
"mark":{"type":"line","interpolate":"monotone","strokeWidth":2},
"encoding":{
"x":{"field":"f","type":"quantitative","axis":null},
"y":{"field":"p","type":"quantitative","axis":{"orient":"right","values":[-130,-110,-90,-70,-50,-30,-10],"labels":false,"title":null,"tickSize":-4}},
"color":{"field":"s","type":"nominal","scale":{"domain":[1,2,3,4,5],"range":["#515151","#F14040","#1A6FDF","#37AD6B","#B177DE"]},"legend":null},
"order":{"value":null}
}}
],
"resolve":{"axis":{"y":"independent"}}
}
],
"resolve":{"scale":{"y":"independent"},"axis":{"x":"independent","y":"independent"}}
}
],
"spacing":0,
"bounds":"flush",
"resolve":{"scale":{"color":"independent","shape":"independent","strokeDash":"independent"}}
},
{
"width":1240,"height":480,
"view":{"stroke":null,"fill":"white"},
"data":{"name":"cap"},
"mark":{"type":"text","align":"center","baseline":"middle","font":"Liberation Serif, Noto Sans CJK SC","color":"black"},
"encoding":{
"x":{"datum":0.5,"type":"quantitative","scale":{"domain":[0,1],"nice":false,"zero":false},"axis":null},
"y":{"field":"i","type":"quantitative","scale":{"domain":[-0.973,10.137],"reverse":true,"nice":false,"zero":false},"axis":null},
"text":{"field":"t"},
"size":{"condition":{"test":"datum.i > 5","value":21},"value":29.5}
}
}
]
}
